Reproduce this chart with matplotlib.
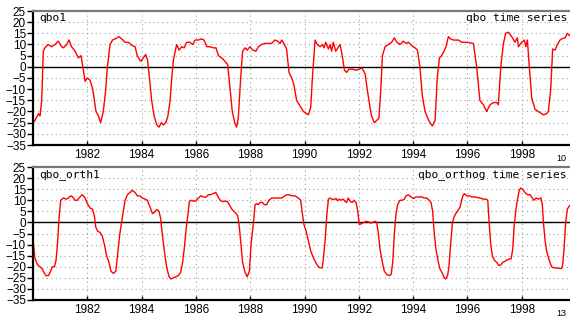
import numpy as np
import matplotlib.pyplot as plt

# qbo1 series (decimal year, value)
t_qbo = [1980.00, 1980.07, 1980.20, 1980.26, 1980.32, 1980.38, 1980.44, 1980.56, 1980.69, 1980.81,
         1980.93, 1981.06, 1981.12, 1981.24, 1981.33, 1981.42, 1981.55, 1981.67, 1981.77, 1981.85,
         1981.92, 1982.00, 1982.10, 1982.20, 1982.26, 1982.32, 1982.41, 1982.49, 1982.59, 1982.68,
         1982.74, 1982.84, 1982.93, 1983.02, 1983.17, 1983.27, 1983.39, 1983.51, 1983.66, 1983.76,
         1983.84, 1983.94, 1983.98, 1984.06, 1984.15, 1984.22, 1984.29, 1984.37, 1984.46, 1984.56,
         1984.64, 1984.73, 1984.80, 1984.89, 1984.97, 1985.05, 1985.11, 1985.17, 1985.29, 1985.38,
         1985.48, 1985.57, 1985.66, 1985.78, 1985.88, 1985.97, 1986.09, 1986.21, 1986.30, 1986.40,
         1986.52, 1986.64, 1986.74, 1986.83, 1986.95, 1987.07, 1987.17, 1987.26, 1987.34, 1987.43,
         1987.50, 1987.56, 1987.65, 1987.72, 1987.81, 1987.89, 1987.99, 1988.09, 1988.21, 1988.30,
         1988.42, 1988.55, 1988.67, 1988.79, 1988.91, 1989.01, 1989.10, 1989.16, 1989.26, 1989.34,
         1989.43, 1989.53, 1989.61, 1989.71, 1989.81, 1989.96, 1990.14, 1990.23, 1990.29, 1990.39,
         1990.47, 1990.57, 1990.66, 1990.72, 1990.78, 1990.88, 1990.94, 1991.00, 1991.06, 1991.15,
         1991.31, 1991.39, 1991.47, 1991.55, 1991.64, 1991.74, 1991.92, 1992.11, 1992.23, 1992.31,
         1992.41, 1992.47, 1992.57, 1992.66, 1992.74, 1992.81, 1992.87, 1992.97, 1993.09, 1993.21,
         1993.31, 1993.40, 1993.52, 1993.64, 1993.73, 1993.83, 1993.95, 1994.07, 1994.16, 1994.25,
         1994.34, 1994.44, 1994.54, 1994.62, 1994.71, 1994.81, 1994.89, 1994.97, 1995.05, 1995.14,
         1995.21, 1995.30, 1995.38, 1995.48, 1995.67, 1995.79, 1995.97, 1996.22, 1996.34, 1996.46,
         1996.59, 1996.71, 1996.83, 1996.96, 1997.08, 1997.14, 1997.23, 1997.32, 1997.41, 1997.51,
         1997.66, 1997.75, 1997.84, 1997.88, 1998.00, 1998.10, 1998.15, 1998.21, 1998.28, 1998.37,
         1998.49, 1998.61, 1998.80, 1998.92, 1998.98, 1999.07, 1999.14, 1999.23, 1999.31, 1999.41,
         1999.47, 1999.60, 1999.68, 1999.76, 1999.83]
v_qbo = [-25, -24, -21, -22, -15, 7, 8.5, 10, 9, 10,
         11.5, 9, 8.5, 10, 12, 9, 7, 4, 5, -1,
         -6.5, -5, -6, -10, -15, -20, -22, -25, -20, -10,
         0, 10, 12, 12.5, 13.5, 12.5, 11, 11, 9.5, 9,
         5, 3, 2.5, 4, 5.5, 3, -5, -15, -22, -26,
         -27, -25, -26, -25, -22, -15, -5, 3, 10, 7.5,
         9, 8.5, 11, 11, 10, 12, 12, 12.5, 12, 9,
         9, 8.5, 8.5, 5, 4, 2.5, 1, -10, -20, -25,
         -27, -23, -5, 7, 8.5, 7.5, 9, 7.5, 7, 9,
         10, 10.5, 10.5, 10.5, 12, 11.5, 10.5, 12, 10, 8,
         -2.5, -5, -8, -15, -17, -20, -21.5, -18, -5, 12,
         10, 9, 10, 8.5, 11, 8, 10, 7, 11, 7,
         10, 5, -1.5, -2.5, -1, -1, -1.5, -0.5, -3, -10,
         -18, -22, -25, -24, -23, -10, 5, 9, 10, 11,
         13, 11, 10, 11.5, 10.5, 11, 9.5, 8.5, 7.5, 0,
         -13, -20, -23, -25, -26.5, -24, -5, 4, 5, 7,
         9, 13.5, 12.5, 12, 12, 11, 11, 10.5, 0, -15,
         -17, -20, -17, -16, -16, -17, 0, 10, 15, 15.5,
         13, 11, 13, 9, 11, 12, 9, 12, 0, -14,
         -19, -20, -21.5, -21, -20, -10, 8, 7.5, 10, 12,
         12.5, 13, 15, 14, 15]

# qbo_orth1 series (decimal year, value)
t_orth = [1980.01, 1980.07, 1980.16, 1980.26, 1980.34, 1980.42, 1980.48, 1980.57, 1980.65, 1980.71,
          1980.79, 1980.85, 1980.90, 1980.96, 1981.02, 1981.12, 1981.22, 1981.30, 1981.39, 1981.46,
          1981.55, 1981.63, 1981.73, 1981.82, 1981.92, 1982.00, 1982.10, 1982.19, 1982.26, 1982.31,
          1982.38, 1982.47, 1982.55, 1982.63, 1982.71, 1982.80, 1982.87, 1982.96, 1983.05, 1983.12,
          1983.20, 1983.29, 1983.39, 1983.48, 1983.57, 1983.66, 1983.76, 1983.84, 1983.94, 1984.03,
          1984.13, 1984.21, 1984.31, 1984.40, 1984.47, 1984.56, 1984.64, 1984.70, 1984.76, 1984.84,
          1984.92, 1985.01, 1985.08, 1985.17, 1985.26, 1985.35, 1985.44, 1985.51, 1985.57, 1985.64,
          1985.70, 1985.76, 1985.84, 1985.93, 1986.00, 1986.09, 1986.18, 1986.27, 1986.36, 1986.46,
          1986.54, 1986.64, 1986.73, 1986.80, 1986.89, 1986.97, 1987.07, 1987.16, 1987.23, 1987.32,
          1987.40, 1987.48, 1987.54, 1987.60, 1987.66, 1987.72, 1987.81, 1987.89, 1987.97, 1988.03,
          1988.12, 1988.18, 1988.24, 1988.30, 1988.36, 1988.45, 1988.52, 1988.61, 1988.69, 1988.79,
          1988.88, 1988.98, 1989.07, 1989.16, 1989.28, 1989.34, 1989.43, 1989.53, 1989.65, 1989.77,
          1989.86, 1989.91, 1989.98, 1990.06, 1990.14, 1990.23, 1990.33, 1990.41, 1990.51, 1990.57,
          1990.65, 1990.69, 1990.76, 1990.82, 1990.88, 1990.94, 1991.00, 1991.09, 1991.16, 1991.22,
          1991.28, 1991.34, 1991.43, 1991.49, 1991.55, 1991.61, 1991.68, 1991.76, 1991.82, 1991.90,
          1991.96, 1992.02, 1992.11, 1992.19, 1992.27, 1992.35, 1992.44, 1992.51, 1992.60, 1992.66,
          1992.72, 1992.78, 1992.87, 1992.94, 1993.03, 1993.13, 1993.19, 1993.25, 1993.31, 1993.37,
          1993.43, 1993.52, 1993.60, 1993.68, 1993.74, 1993.82, 1993.92, 1994.01, 1994.11, 1994.19,
          1994.32, 1994.41, 1994.50, 1994.59, 1994.66, 1994.72, 1994.78, 1994.84, 1994.93, 1994.99,
          1995.08, 1995.15, 1995.20, 1995.27, 1995.32, 1995.38, 1995.45, 1995.51, 1995.57, 1995.64,
          1995.73, 1995.83, 1995.89, 1995.97, 1996.06, 1996.16, 1996.26, 1996.34, 1996.46, 1996.59,
          1996.69, 1996.75, 1996.80, 1996.86, 1996.92, 1996.99, 1997.08, 1997.16, 1997.24, 1997.30,
          1997.39, 1997.45, 1997.54, 1997.61, 1997.67, 1997.72, 1997.78, 1997.84, 1997.91, 1997.96,
          1998.04, 1998.12, 1998.21, 1998.31, 1998.39, 1998.45, 1998.53, 1998.61, 1998.71, 1998.76,
          1998.80, 1998.86, 1998.92, 1999.01, 1999.10, 1999.19, 1999.29, 1999.41, 1999.47, 1999.51,
          1999.56, 1999.62, 1999.68, 1999.76, 1999.83]
v_orth = [-9, -16, -19, -20, -21, -23, -24, -24, -22, -20,
          -20, -17, -10, 2, 10, 11, 10.5, 11, 12, 11.5,
          10, 10, 11.5, 12.5, 11, 8.5, 6.5, 6, 3, -2,
          -4, -4.5, -6, -10, -15, -18, -22, -23, -22, -14,
          -5, 2, 10, 12.5, 13.5, 14.5, 13.5, 12, 12, 11,
          10.5, 10, 7, 4, 4.5, 5.8, 5, 2, -5, -13,
          -20, -24.5, -25.5, -25, -24.5, -24, -22.5, -18, -12, -3,
          3, 9.5, 10, 9.5, 9.8, 11, 12, 11.5, 11.3, 12.5,
          12.5, 13, 13.5, 12, 10, 9.5, 9.5, 9.5, 8, 6,
          5, 4, 3, -2, -10, -18, -22.5, -24.5, -22, -10,
          0, 8, 8.5, 8, 9, 9, 8, 8, 10, 11,
          11, 11, 11, 11, 12, 12.5, 12.5, 12, 12, 11,
          10, 5, -1, -4, -8, -13, -16, -18, -20, -20.5,
          -20.5, -17, -8, 3, 10.5, 11, 10.5, 10.3, 10.8, 9.8,
          10.5, 10, 10.5, 9.5, 9, 11, 9.5, 9, 10, 9,
          5, -1, -0.5, 0, 0.5, 0.3, -0.3, 0, 0.5, 0,
          -5, -12, -18, -22, -23.5, -24, -23.5, -18, -5, 4,
          8, 10, 10, 10.5, 12, 12.5, 11.5, 10.8, 11.5, 11.5,
          11.5, 11, 11, 10, 9, 5, -5, -12, -18, -21,
          -23, -25, -25.5, -24, -20, -10, 0, 2.5, 4, 5,
          7, 12, 13, 12, 12, 11.5, 11.5, 11.3, 11, 10.5,
          10.5, 10, 0, -10, -15, -17, -18, -19.5, -19, -18,
          -17.5, -17, -16.5, -16.5, -12, -2, 5, 10, 14.5, 15.5,
          15, 13.5, 12.5, 12.5, 11, 10, 11, 10.5, 11, 8,
          0, -8, -13, -17, -20, -20.5, -20.5, -20.8, -20.8, -19,
          -12, 0, 6, 7.5, 8]

year_ticks = list(range(1982, 2000, 2))
value_ticks = list(range(-35, 30, 5))

panels = [
    (t_qbo, v_qbo, "qbo1", "qbo time series", "10"),
    (t_orth, v_orth, "qbo_orth1", "qbo_orthog time series", "13"),
]

W, H = 570, 320
fig = plt.figure(figsize=(W / 100, H / 100), dpi=100)
plt.rcParams['font.family'] = ['Liberation Sans', 'DejaVu Sans']

# pixel boxes (left, top, bottom) of the two panels
boxes = [(33, 11, 145), (33, 167, 300)]
x_per_year = 27.15

for (t, v, lab_left, lab_right, num), (left, top, bot) in zip(panels, boxes):
    ax = fig.add_axes([left / W, 1 - bot / H, 20 * x_per_year / W, (bot - top) / H])
    ax.set_xlim(1980, 2000)
    ax.set_ylim(-35, 25)

    for y in range(-30, 25, 5):
        ax.axhline(y, color='#a0a0a0', lw=0.8, ls=(0, (1, 3)), zorder=0)
    for x in year_ticks:
        ax.axvline(x, color='#a0a0a0', lw=0.8, ls=(0, (1, 3)), zorder=0)
    ax.axhline(0, color='black', lw=1.0, zorder=1)

    ax.plot(t, v, color='#ff0000', lw=1.0, zorder=2)

    ax.set_xticks(year_ticks)
    ax.set_xticklabels([str(y) for y in year_ticks])
    ax.set_yticks(value_ticks)
    ax.set_yticklabels([str(y).replace('-', '\u2212') for y in value_ticks])
    ax.tick_params(axis='y', direction='out', length=4, width=1, pad=1, labelsize=8.5)
    ax.tick_params(axis='x', direction='in', length=3, width=1, pad=3, labelsize=8.5)

    for side in ['left', 'bottom']:
        ax.spines[side].set_color('black')
        ax.spines[side].set_linewidth(1.6)
    ax.spines['top'].set_color('#777777')
    ax.spines['top'].set_linewidth(1.6)
    ax.spines['right'].set_visible(False)

    x_right = (567 - left) / (20 * x_per_year)
    ax.text(0.012, 0.985, lab_left, transform=ax.transAxes, ha='left', va='top',
            family='DejaVu Sans Mono', fontsize=8.1)
    ax.text(x_right, 0.985, lab_right, transform=ax.transAxes, ha='right', va='top',
            family='DejaVu Sans Mono', fontsize=8.1)

    fig.text(566 / W, 1 - (bot + 18) / H, num, ha='right', va='bottom', fontsize=6.5)

fig.savefig('out.png', dpi=100)
